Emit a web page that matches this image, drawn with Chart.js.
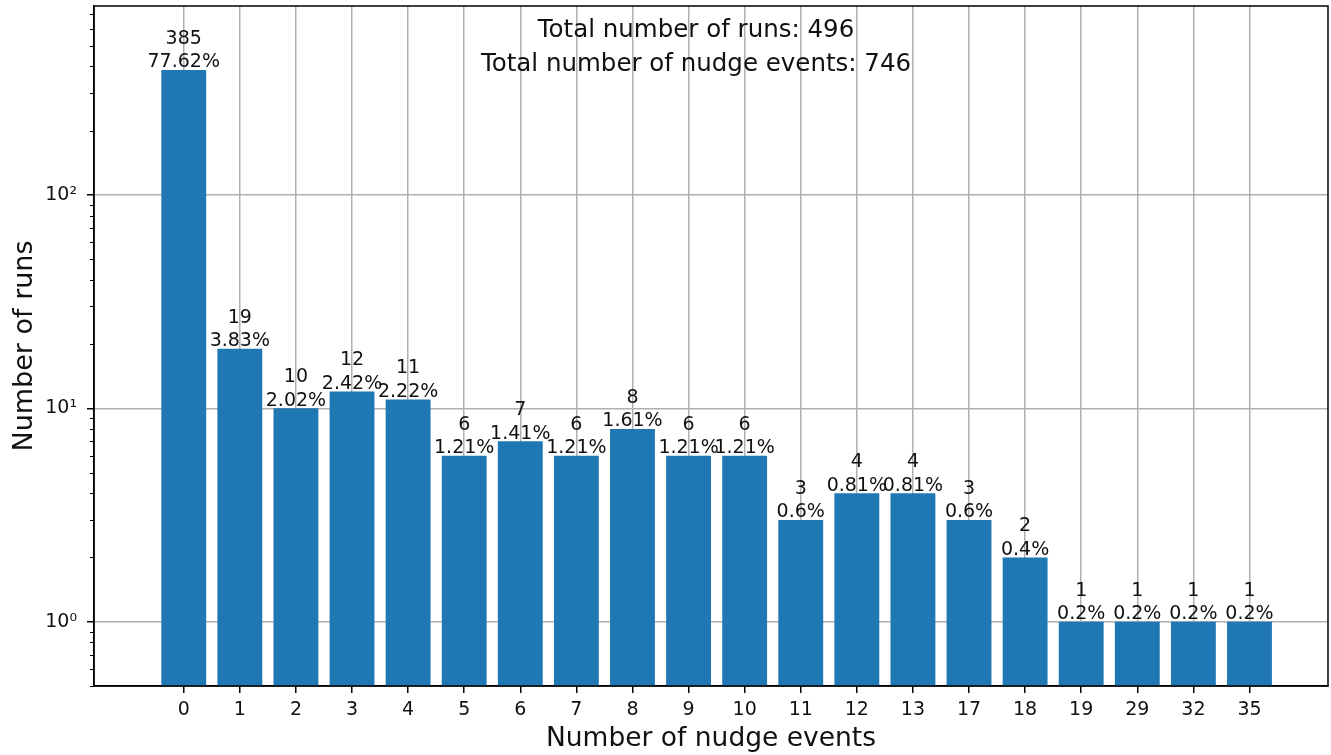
<!DOCTYPE html>
<html lang="en">
<head>
<meta charset="UTF-8" />
<title>Nudge events per run</title>
<script src="https://cdn.jsdelivr.net/npm/chart.js"></script>
<style>
    html, body { margin: 0; padding: 0; background: #fff; }
</style>
</head>
<body>
<canvas id="nudgeChart" width="1331" height="755"></canvas>

<script>
    const nudgeEvents = ['0', '1', '2', '3', '4', '5', '6', '7', '8', '9', '10',
                         '11', '12', '13', '17', '18', '19', '29', '32', '35'];
    const runCounts = [385, 19, 10, 12, 11, 6, 7, 6, 8, 6, 6, 3, 4, 4, 3, 2, 1, 1, 1, 1];
    const runPercents = ['77.62%', '3.83%', '2.02%', '2.42%', '2.22%', '1.21%', '1.41%',
                         '1.21%', '1.61%', '1.21%', '1.21%', '0.6%', '0.81%', '0.81%',
                         '0.6%', '0.4%', '0.2%', '0.2%', '0.2%', '0.2%'];
    const yTickValues = [0.5, 0.6, 0.7, 0.8, 0.9, 1, 2, 3, 4, 5, 6, 7, 8, 9,
                         10, 20, 30, 40, 50, 60, 70, 80, 90, 100, 200, 300, 400, 500, 600, 700];
    const yTickLabels = { 1: '10⁰', 10: '10¹', 100: '10²' };
    const summaryLines = ['Total number of runs: 496', 'Total number of nudge events: 746'];

    const FONT = 'DejaVu Sans';
    const isMajor = v => yTickLabels[v] !== undefined;

    // labels above bars, minor y ticks, full frame and summary text
    const extras = {
        id: 'extras',
        afterDraw(chart) {
            const c = chart.ctx;
            const area = chart.chartArea;
            const y = chart.scales.y;
            c.save();

            c.strokeStyle = '#000';
            c.lineWidth = 1;
            yTickValues.filter(v => !isMajor(v)).forEach(v => {
                const py = Math.round(y.getPixelForValue(v)) + 0.5;
                c.beginPath();
                c.moveTo(area.left - 4, py);
                c.lineTo(area.left, py);
                c.stroke();
            });

            c.lineWidth = 1.5;
            c.strokeRect(area.left, area.top, area.right - area.left, area.bottom - area.top);

            c.fillStyle = '#111';
            c.textAlign = 'center';
            c.textBaseline = 'alphabetic';
            c.font = `19px "${FONT}"`;
            chart.getDatasetMeta(0).data.forEach((bar, i) => {
                c.fillText(String(runCounts[i]), bar.x, bar.y - 26);
                c.fillText(runPercents[i], bar.x, bar.y - 2.5);
            });

            c.font = `24.5px "${FONT}"`;
            c.fillText(summaryLines[0], 696, 37);
            c.fillText(summaryLines[1], 696, 71);
            c.restore();
        }
    };

    const ctx = document.getElementById('nudgeChart').getContext('2d');
    new Chart(ctx, {
        type: 'bar',
        data: {
            datasets: [{
                data: runCounts.map((v, i) => ({ x: i, y: v })),
                backgroundColor: '#1f77b4',
                categoryPercentage: 1,
                barPercentage: 0.8,
            }],
        },
        options: {
            responsive: false,
            animation: false,
            layout: { padding: { top: 6, right: 3, left: 0, bottom: 0 } },
            plugins: { legend: { display: false }, tooltip: { enabled: false } },
            scales: {
                x: {
                    type: 'linear',
                    min: -1.6,
                    max: 20.4,
                    bounds: 'data',
                    offset: false,
                    z: 1,
                    afterBuildTicks: s => { s.ticks = nudgeEvents.map((_, i) => ({ value: i })); },
                    afterFit: s => { s.height = 69; s.paddingLeft = 0; s.paddingRight = 0; },
                    ticks: {
                        autoSkip: false,
                        maxRotation: 0,
                        padding: 6,
                        color: '#111',
                        font: { family: FONT, size: 19 },
                        callback: v => nudgeEvents[v],
                    },
                    grid: { offset: false, color: '#b0b0b0', lineWidth: 1.5, tickColor: '#000', tickLength: 7, tickWidth: 1.5 },
                    border: { color: '#000', width: 1.5 },
                    title: {
                        display: true,
                        text: 'Number of nudge events',
                        color: '#111',
                        font: { family: FONT, size: 26.5 },
                        padding: { top: 0, bottom: 0 },
                    },
                },
                y: {
                    type: 'logarithmic',
                    min: 0.5,
                    max: 767,
                    bounds: 'data',
                    z: 1,
                    afterBuildTicks: s => { s.ticks = yTickValues.map(v => ({ value: v })); },
                    afterFit: s => { s.width = 94; s.paddingTop = 0; s.paddingBottom = 0; },
                    ticks: {
                        autoSkip: false,
                        padding: 10,
                        color: '#111',
                        font: { family: FONT, size: 19 },
                        callback: v => yTickLabels[v] || '',
                    },
                    grid: {
                        color: c => isMajor(c.tick && c.tick.value) ? '#b0b0b0' : 'rgba(0,0,0,0)',
                        tickColor: c => isMajor(c.tick && c.tick.value) ? '#000' : 'rgba(0,0,0,0)',
                        lineWidth: 1.5,
                        tickLength: 7,
                        tickWidth: 1.5,
                    },
                    border: { color: '#000', width: 1.5 },
                    title: {
                        display: true,
                        text: 'Number of runs',
                        color: '#111',
                        font: { family: FONT, size: 27 },
                        padding: { top: 9, bottom: 4 },
                    },
                },
            },
        },
        plugins: [extras],
    });
</script>
</body>
</html>
